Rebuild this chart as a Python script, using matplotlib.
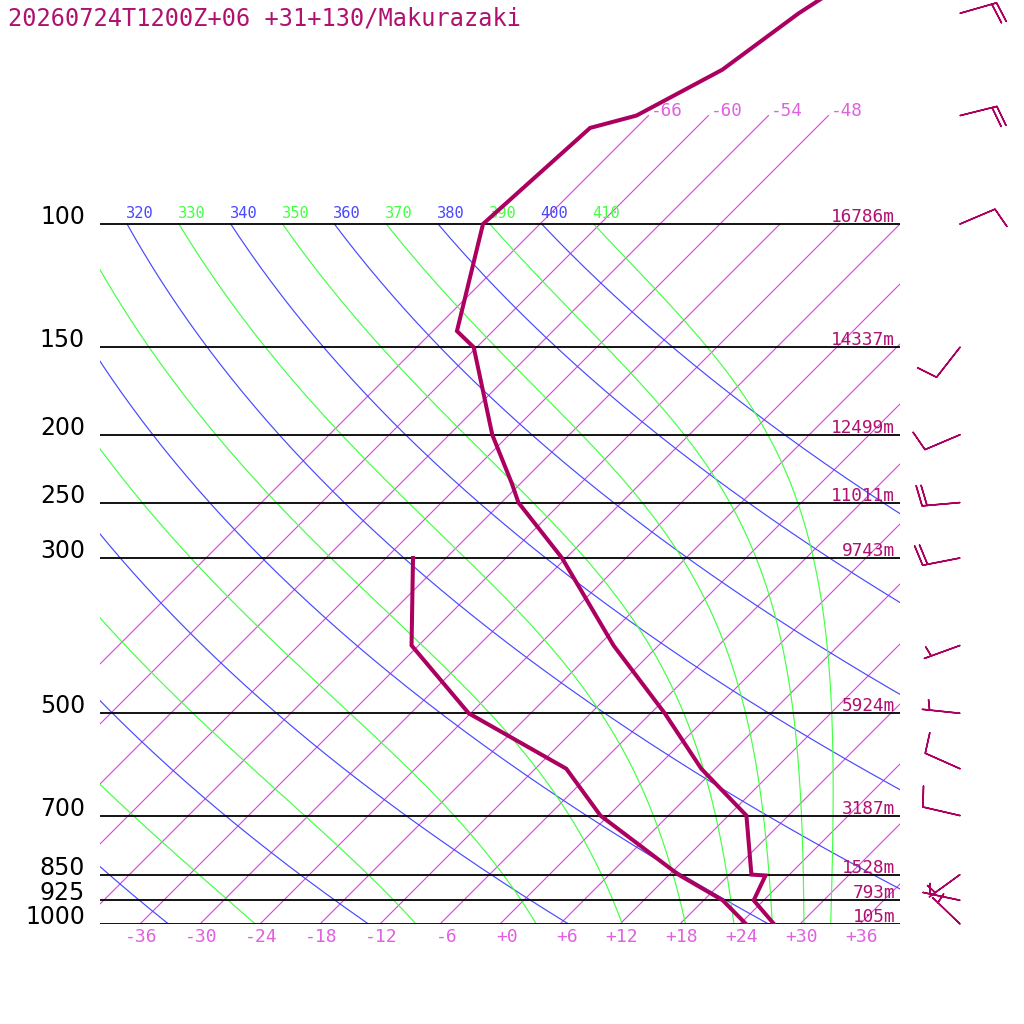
import numpy as np
import matplotlib
matplotlib.use("Agg")
import matplotlib.pyplot as plt

TITLE = "20260724T1200Z+06 +31+130/Makurazaki"

# sounding (hPa, degC)
PRES_T = [1000, 925, 852.5, 850, 700, 600, 500, 400, 300, 250, 234.6, 200,
          150, 142.2, 100, 72.9, 70, 60.2, 50, 40]
TEMP = [27.4, 23.0, 21.7, 20.2, 13.8, 4.6, -4.6, -16.5, -30.4, -40.3, -42.9,
        -49.7, -60.3, -63.6, -71.7, -70.6, -67.2, -63.2, -61.2, -57.5]
PRES_TD = [1000, 925, 850, 700, 600, 500, 400, 300]
DEWPT = [24.6, 19.9, 12.9, -0.8, -8.9, -24.2, -36.7, -45.3]

# mandatory levels and their heights
LEVELS = [1000, 925, 850, 700, 500, 300, 250, 200, 150, 100]
HEIGHTS = ["105m", "793m", "1528m", "3187m", "5924m", "9743m", "11011m",
           "12499m", "14337m", "16786m"]

# winds (direction from, knots)
WIND_P = [1000, 925, 850, 700, 600, 500, 400, 300, 250, 200, 150, 100, 70, 50]
WIND_DIR = [314, 282, 234, 283, 294, 276, 250, 259, 265, 247, 218, 67, 76, 74]
WIND_SPD = [5, 5, 5, 10, 10, 5, 5, 20, 20, 10, 10, 10, 20, 20]

# diagram grid
TEMP_TICKS = [-36, -30, -24, -18, -12, -6, 0, 6, 12, 18, 24, 30, 36]
ISOTHERMS = [-66, -60, -54, -48, -42, -36, -30, -24, -18, -12, -6, 0, 6, 12,
             18, 24, 30, 36]
TOP_ISOTHERMS = [-66, -60, -54, -48]
THETA_DRY = [240, 260, 280, 300, 320, 340, 360, 380, 400]
THETA_MOIST = [250, 270, 290, 310, 330, 350, 370, 390, 410]

SKEW = 30.4          # degC per ln(p) unit
P_TOP = 1000.0 * np.exp(-924.0 / 304.0)
PT = 0.72            # points per pixel at dpi 100

C_CURVE = "#ac0060"
C_TEXT = "#b01070"
C_ISO = "#e040e0"
C_ISO_LAB = "#e060e0"
C_BLUE = "#4848ff"
C_GREEN = "#44ff44"
MONO = "DejaVu Sans Mono"

RD, CP, LV, EPS = 287.04, 1005.7, 2.501e6, 0.622


def skew_x(t, p):
    return np.asarray(t) + SKEW * np.log(1000.0 / np.asarray(p))


def sat_mixing(t_k, p):
    tc = t_k - 273.15
    es = 6.112 * np.exp(17.67 * tc / (tc + 243.5))
    return EPS * es / (p - es)


def moist_rate(t_k, p):
    rs = sat_mixing(t_k, p)
    return (RD * t_k + LV * rs) / (CP + LV ** 2 * rs * EPS / (RD * t_k ** 2)) / p


def moist_adiabat(theta, p_grid):
    t = theta * (p_grid[0] / 1000.0) ** (RD / CP)
    out = [t]
    for p0, p1 in zip(p_grid[:-1], p_grid[1:]):
        h = p1 - p0
        k1 = moist_rate(t, p0)
        k2 = moist_rate(t + h * k1 / 2, p0 + h / 2)
        k3 = moist_rate(t + h * k2 / 2, p0 + h / 2)
        k4 = moist_rate(t + h * k3, p1)
        t = t + h * (k1 + 2 * k2 + 2 * k3 + k4) / 6
        out.append(t)
    return np.array(out) - 273.15


fig = plt.figure(figsize=(10.24, 10.24), dpi=100)
ax = fig.add_axes([100 / 1024, 100 / 1024, 800 / 1024, 924 / 1024])
ax.set_yscale("log")
ax.set_xlim(-40, 40)
ax.set_ylim(1000, P_TOP)
ax.axis("off")

p_grid = np.geomspace(100, 1000, 300)

# isotherms
for t in ISOTHERMS:
    p_end = 70.0 if t in TOP_ISOTHERMS else 100.0
    pp = np.array([1000.0, p_end])
    ax.plot(skew_x([t, t], pp), pp, color=C_ISO, lw=0.8, zorder=1)
for t in TOP_ISOTHERMS:
    ax.annotate(f"{t:d}", xy=(skew_x(t, 70.0), 70.0), xytext=(2 * PT, 0),
                textcoords="offset points", ha="left", va="baseline",
                fontsize=12.7, family=MONO, color=C_ISO_LAB)


def theta_label(th, x, color):
    # labels sit on the 100 hPa line; ones starting far off the left edge are skipped
    if x < -44:
        return
    txt = ax.annotate(f"{th}", xy=(x, 100.0), xytext=(-1 * PT, 6 * PT),
                      textcoords="offset points", ha="left", va="baseline",
                      fontsize=11.1, family=MONO, color=color,
                      annotation_clip=False)
    txt.set_clip_box(ax.bbox)
    txt.set_clip_on(True)


# dry adiabats
for th in THETA_DRY:
    tt = th * (p_grid / 1000.0) ** (RD / CP) - 273.15
    ax.plot(skew_x(tt, p_grid), p_grid, color=C_BLUE, lw=0.85, zorder=1)
    theta_label(th, skew_x(tt[0], 100.0), C_BLUE)

# pseudo adiabats
for th in THETA_MOIST:
    tt = moist_adiabat(th, p_grid)
    ax.plot(skew_x(tt, p_grid), p_grid, color=C_GREEN, lw=0.85, zorder=1)
    theta_label(th, skew_x(tt[0], 100.0), C_GREEN)

# isobars
ax.hlines(LEVELS, -40, 40, colors="black", lw=1.3, zorder=2)
for p, lab, h in zip(LEVELS, LEVELS, HEIGHTS):
    ax.annotate(str(lab), xy=(-41.5, p), ha="right", va="baseline",
                fontsize=17, family="DejaVu Sans", color="black",
                annotation_clip=False)
    ax.annotate(h, xy=(39.5, p), xytext=(0, 2 * PT), textcoords="offset points",
                ha="right", va="baseline", fontsize=12.8, family=MONO,
                color=C_TEXT, zorder=3)

# temperature tick labels
for t in TEMP_TICKS:
    lab = f"{t:+d}" if t >= 0 else f"{t:d}"
    ax.annotate(lab, xy=(t + 1.8, 1000), xytext=(0, -18 * PT),
                textcoords="offset points", ha="right", va="baseline",
                fontsize=13, family=MONO, color=C_ISO_LAB, annotation_clip=False)

# sounding curves
ax.plot(skew_x(TEMP, PRES_T), PRES_T, color=C_CURVE, lw=2.9, zorder=5,
        solid_joinstyle="miter")
ax.plot(skew_x(DEWPT, PRES_TD), PRES_TD, color=C_CURVE, lw=2.9, zorder=5,
        solid_joinstyle="miter")

# wind barbs
wd = np.deg2rad(WIND_DIR)
u = -np.array(WIND_SPD) * np.sin(wd)
v = -np.array(WIND_SPD) * np.cos(wd)
ax.barbs(np.full(len(WIND_P), 46.0), WIND_P, u, v, length=7.4,
         sizes=dict(spacing=0.13, height=0.54, width=0.22),
         color=C_CURVE, linewidth=1.1, clip_on=False, zorder=6)

fig.text(8 / 1024, 1 - 26 / 1024, TITLE, ha="left", va="baseline",
         fontsize=17, family=MONO, color=C_TEXT)

fig.savefig("out.png", dpi=100, facecolor="white")
